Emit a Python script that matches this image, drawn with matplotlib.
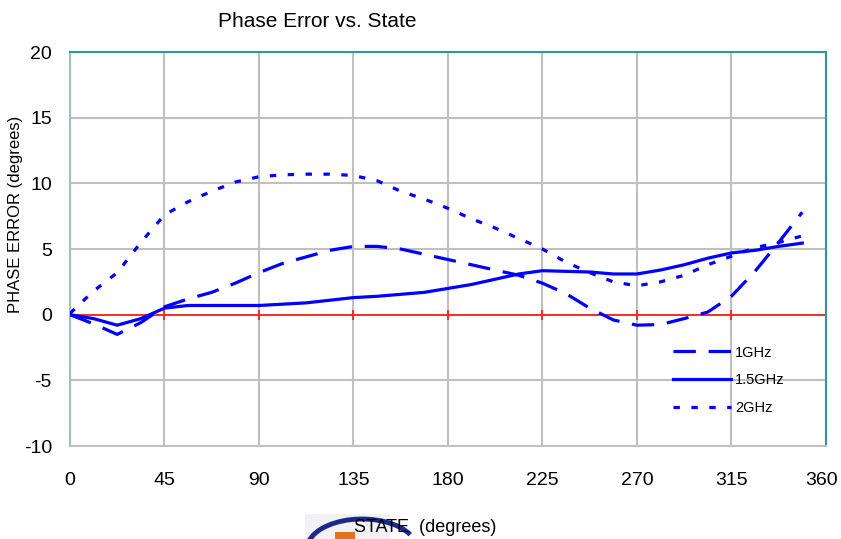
import numpy as np
import matplotlib.pyplot as plt
import matplotlib.transforms as mtransforms
from matplotlib.patches import Arc, Rectangle

plt.rcParams['font.family'] = ['Liberation Sans', 'DejaVu Sans']
plt.rcParams['axes.unicode_minus'] = False

# phase state, degrees
state = [0, 11.25, 22.5, 33.75, 45, 56.25, 67.5, 78.75, 90, 101.25, 112.5, 123.75,
         135, 146.25, 157.5, 168.75, 180, 191.25, 202.5, 213.75, 225, 236.25,
         247.5, 258.75, 270, 281.25, 292.5, 303.75, 315, 326.25, 337.5, 348.75]

err_1ghz = [0, -0.7, -1.5, -0.6, 0.6, 1.2, 1.7, 2.4, 3.2, 3.9, 4.4, 4.9,
            5.2, 5.2, 5.0, 4.6, 4.2, 3.8, 3.4, 3.0, 2.4, 1.6,
            0.5, -0.4, -0.8, -0.75, -0.3, 0.2, 1.4, 3.3, 5.5, 7.8]

err_15ghz = [0, -0.3, -0.8, -0.3, 0.5, 0.7, 0.7, 0.7, 0.7, 0.8, 0.9, 1.1,
             1.3, 1.4, 1.55, 1.7, 2.0, 2.3, 2.7, 3.1, 3.35, 3.3,
             3.25, 3.1, 3.1, 3.4, 3.8, 4.3, 4.7, 4.9, 5.2, 5.45]

err_2ghz = [0.1, 1.8, 3.2, 5.5, 7.6, 8.6, 9.4, 10.1, 10.5, 10.65, 10.7, 10.7,
            10.6, 10.2, 9.4, 8.8, 8.1, 7.3, 6.6, 5.8, 5.0, 4.0,
            3.2, 2.5, 2.2, 2.5, 3.0, 3.8, 4.45, 5.1, 5.5, 6.0]

xticks = [0, 45, 90, 135, 180, 225, 270, 315, 360]
yticks = [-10, -5, 0, 5, 10, 15, 20]

fig = plt.figure(figsize=(8.41, 5.39), dpi=100)
ax = fig.add_axes([0.0832, 0.1725, 0.8988, 0.731])

ax.set_xlim(0, 360)
ax.set_ylim(-10, 20)
ax.set_xticks(xticks)
ax.set_yticks(yticks)
ax.grid(True, color='#c0c0c0', linewidth=1.5)
ax.set_axisbelow(True)
ax.tick_params(length=0, labelsize=14)
ax.tick_params(axis='y', pad=13)
ax.tick_params(axis='x', pad=19)

# last x label sits right at the figure edge, nudge it in a little
last = ax.get_xticklabels()[-1]
last.set_transform(last.get_transform() +
                   mtransforms.ScaledTranslation(-3 / 72, 0, fig.dpi_scale_trans))

for side in ['top', 'right']:
    ax.spines[side].set_color('#2a9a92')
    ax.spines[side].set_linewidth(1.5)
ax.spines['left'].set_color('#9fbfc0')
ax.spines['left'].set_linewidth(1.5)
ax.spines['bottom'].set_color('#c0c0c0')
ax.spines['bottom'].set_linewidth(1.5)

# zero axis with tick marks
ax.axhline(0, color='#ff2020', linewidth=1.3, zorder=2)
ax.plot(xticks, [0] * len(xticks), linestyle='none', marker='|', color='#ff2020',
        markersize=7, markeredgewidth=1.3, zorder=2, clip_on=False)

c = '#0000ff'
ax.plot(state, err_1ghz, color=c, linewidth=2.3, dashes=(7, 4), label='1GHz', zorder=3)
ax.plot(state, err_15ghz, color=c, linewidth=2.3, label='1.5GHz', zorder=3)
ax.plot(state, err_2ghz, color=c, linewidth=2.3, dashes=(2, 3.6), label='2GHz', zorder=3)

leg = ax.legend(loc='upper left', bbox_to_anchor=(0.7976, 0.255), frameon=False,
                fontsize=10.5, handlelength=4.0, handletextpad=0.25, labelspacing=0.95,
                borderpad=0, borderaxespad=0)

fig.text(0.377, 0.96, 'Phase Error vs. State', fontsize=15, ha='center', va='center')
fig.text(0.019, 0.603, 'PHASE ERROR (degrees)', fontsize=12, rotation=90,
         ha='center', va='center')

# partial logo under the axis title
fig.add_artist(Rectangle((305 / 841, 0), 85 / 841, 25 / 539, transform=fig.transFigure,
                         facecolor='#f2f2f4', edgecolor='none', zorder=0))
fig.add_artist(Arc((362 / 841, -10 / 539), 110 / 841, 60 / 539, theta1=25, theta2=175,
                   transform=fig.transFigure, color='#1a2a8a', linewidth=3.5, zorder=1))
fig.add_artist(Rectangle((335 / 841, 0), 20 / 841, 7 / 539, transform=fig.transFigure,
                         facecolor='#e8701a', edgecolor='none', zorder=1))

fig.text(0.505, 0.022, 'STATE  (degrees)', fontsize=13, ha='center', va='center',
         zorder=2)

fig.savefig('out.png', dpi=100)
